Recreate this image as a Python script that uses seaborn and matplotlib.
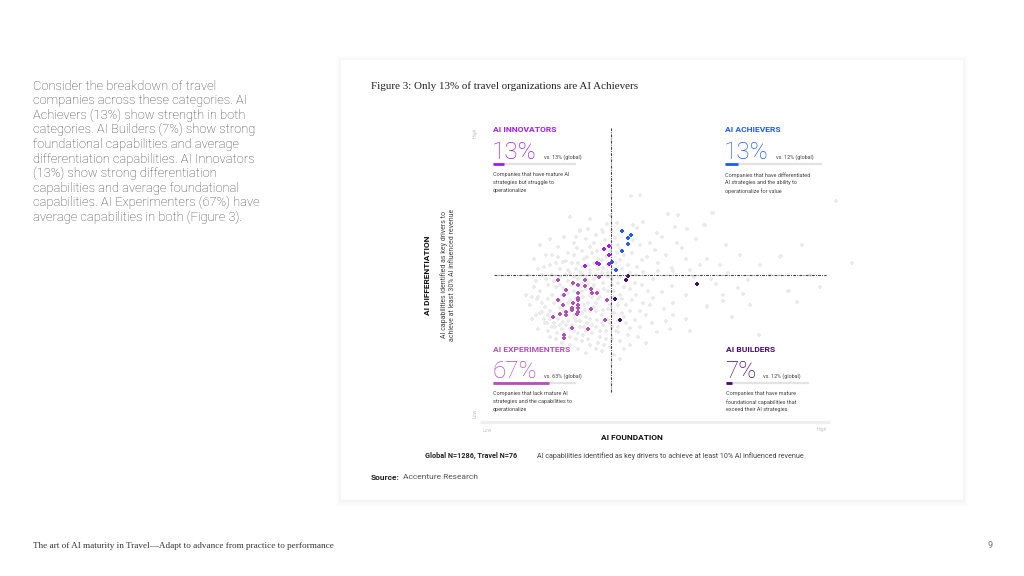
import matplotlib
matplotlib.use("Agg")
import matplotlib.pyplot as plt
from matplotlib.patches import Rectangle
import pandas as pd
import seaborn as sns

# ========== data ==========
quadrants = ["AI INNOVATORS", "AI ACHIEVERS", "AI EXPERIMENTERS", "AI BUILDERS"]
travel_share = [13, 13, 67, 7]
global_share = [13, 12, 63, 12]
quad_colors = ["#a11df2", "#1f5bff", "#b34fb8", "#460a70"]
descriptions = [
    ["Companies that have mature AI", "strategies but struggle to", "operationalize"],
    ["Companies that have differentiated", "AI strategies and the ability to", "operationalize for value"],
    ["Companies that lack mature AI", "strategies and the capabilities to", "operationalize"],
    ["Companies that have mature", "foundational capabilities that", "exceed their AI strategies"],
]

# travel companies (foundation index, differentiation index)
innovators_x = [119, 114, 119, 95, 107, 109, 119]
innovators_y = [169, 166, 160, 149, 152, 151, 151]
achievers_x = [132, 141, 138, 138, 132, 122, 126]
achievers_y = [184, 180, 177, 171, 164, 153, 145]
builders_x = [138, 136, 207, 125, 130]
builders_y = [139, 135, 131, 116, 95]
experimenters_x = [68, 83, 88, 95, 109, 95, 101, 102, 107, 76, 74, 88, 88, 88, 68, 83, 73,
                   88, 88, 82, 82, 101, 117, 76, 70, 88, 87, 76, 63, 115, 82, 98, 74, 74]
experimenters_y = [135, 132, 130, 135, 138, 129, 126, 122, 122, 125, 120, 122, 117, 115, 115, 112, 110,
                   110, 107, 107, 105, 106, 115, 103, 101, 103, 101, 100, 98, 95, 87, 86, 80, 77]

# global sample (background cloud)
global_pts = [
    (223, 202), (214, 190), (217, 156), (230, 150), (238, 142), (291, 159), (362, 152), (221, 136),
    (226, 131), (248, 127), (258, 135), (253, 121), (233, 120), (233, 114), (299, 124), (307, 113),
    (217, 108), (269, 80), (346, 214), (185, 188), (197, 186), (167, 182), (172, 178), (143, 190),
    (147, 187), (153, 193), (187, 172), (192, 167), (165, 165), (157, 158), (152, 155), (168, 152),
    (182, 147), (200, 145), (147, 148), (142, 162), (130, 155), (115, 175), (112, 185), (127, 192),
    (143, 175), (153, 143), (168, 144), (183, 144), (145, 132), (152, 130), (163, 136), (172, 123),
    (182, 129), (142, 115), (153, 112), (163, 117), (183, 112), (145, 95), (162, 92), (183, 100),
    (140, 87), (167, 83), (128, 83), (113, 90), (90, 184), (78, 162), (73, 153), (87, 167),
    (102, 162), (107, 164), (113, 183), (117, 191), (97, 158), (88, 152), (70, 146), (78, 145),
    (93, 148), (100, 145), (113, 147), (112, 155), (125, 177), (127, 162), (50, 124), (47, 116),
    (55, 108), (50, 102), (58, 130), (62, 120), (57, 92), (65, 88), (67, 82), (60, 78),
    (80, 78), (93, 80), (102, 82), (110, 78), (97, 92), (107, 95), (113, 105), (110, 118),
    (103, 128), (113, 132), (80, 142), (90, 143), (100, 142), (73, 127), (80, 115), (93, 118),
    (95, 105), (73, 93), (85, 97), (90, 88), (70, 107), (141, 219), (150, 220), (178, 201),
    (188, 200), (222, 202), (215, 190), (290, 158), (298, 124), (217, 109), (48, 118), (52, 103),
    (55, 92), (90, 185), (84, 138), (96, 137), (104, 136), (118, 138), (122, 130), (118, 124),
    (124, 118), (120, 110), (124, 102), (118, 96), (122, 88), (116, 84), (106, 88), (100, 96),
    (92, 102), (86, 108), (78, 112), (72, 120), (66, 128), (64, 112), (60, 104), (68, 96),
    (76, 90), (84, 84), (92, 74), (100, 70), (108, 72), (116, 76), (120, 68), (96, 62),
    (88, 66), (80, 70), (72, 72), (112, 64), (82, 152), (94, 156), (104, 152), (108, 146),
    (118, 150), (92, 132), (84, 124), (100, 120), (106, 112), (112, 100), (98, 112), (90, 128),
    (78, 134), (70, 138), (62, 140), (56, 136), (44, 128), (40, 110), (42, 96), (48, 86),
    (58, 84), (76, 100), (96, 84), (106, 104), (116, 114), (124, 146), (130, 138), (134, 128),
    (130, 120), (136, 110), (132, 102), (128, 94), (136, 92), (130, 74), (140, 70), (124, 60),
    (134, 66), (148, 78), (150, 104), (158, 124), (138, 150), (134, 160), (128, 170), (120, 164),
    (104, 172), (96, 176), (84, 172), (74, 178), (62, 160), (66, 152), (54, 148), (60, 96),
    (86, 94), (94, 110), (102, 118), (108, 124), (96, 126), (88, 136), (74, 104), (80, 104),
    (58, 116), (100, 104), (120, 92), (110, 84), (86, 76), (126, 84), (138, 80), (150, 88),
    (156, 100), (160, 110), (174, 106), (176, 94), (196, 120), (204, 138), (210, 150), (196, 156),
    (176, 160), (160, 172), (150, 170), (206, 176), (236, 170), (250, 160), (270, 150), (260, 110),
    (242, 98), (196, 96), (180, 86), (156, 72), (200, 84), (320, 140), (330, 128), (280, 140),
    (312, 170), (60, 176), (50, 170), (44, 156), (38, 140), (36, 120), (80, 198), (100, 196),
    (120, 200), (130, 56), (64, 134), (70, 130), (76, 140), (82, 130), (86, 146), (92, 140),
    (98, 150), (104, 130), (110, 138), (114, 126), (108, 116), (104, 108), (96, 98), (90, 94),
    (84, 100), (78, 94), (72, 86), (66, 76), (74, 82), (82, 90), (94, 88), (102, 90),
    (112, 92), (118, 106), (124, 124), (128, 132), (132, 146), (126, 152), (116, 158), (108, 156),
    (100, 168), (92, 164), (84, 160), (76, 154), (68, 158), (60, 150), (52, 140), (46, 134),
    (52, 112), (58, 100), (64, 92), (70, 90), (80, 86), (88, 82), (98, 76), (106, 66),
    (114, 70), (122, 76), (128, 88), (134, 98), (140, 104), (146, 120), (140, 126), (136, 136),
    (146, 140), (140, 142), (130, 166), (122, 184), (106, 180), (98, 186), (86, 178), (68, 168),
    (56, 160), (48, 146), (42, 118), (46, 100), (54, 96), (62, 88), (70, 114), (78, 122),
    (86, 116), (92, 124), (98, 132), (106, 140), (112, 142), (118, 142), (122, 136), (128, 110),
    (132, 116),
]
FOUND_CUT = 121
DIFF_CUT = 140

intro_lines = [
    "Consider the breakdown of travel",
    "companies across these categories. AI",
    "Achievers (13%) show strength in both",
    "categories. AI Builders (7%) show strong",
    "foundational capabilities and average",
    "differentiation capabilities. AI Innovators",
    "(13%) show strong differentiation",
    "capabilities and average foundational",
    "capabilities. AI Experimenters (67%) have",
    "average capabilities in both (Figure 3).",
]

# ========== figure ==========
sns.set_theme(style="white")
plt.rcParams['font.family'] = ['Roboto', 'DejaVu Sans']
W, H = 1024, 576
fig = plt.figure(figsize=(W / 100, H / 100), dpi=100, facecolor="white")


def fx(px):
    return px / W


def fy(py):
    return 1 - py / H


# card with soft shadow
for d in range(1, 6):
    fig.patches.append(Rectangle((fx(341 - d), fy(500 + d + 1)), (622 + 2 * d) / W, (440 + 2 * d) / H,
                                 transform=fig.transFigure, facecolor="black", alpha=0.006,
                                 edgecolor="none", zorder=0))
fig.patches.append(Rectangle((fx(341), fy(500)), 622 / W, 440 / H, transform=fig.transFigure,
                             facecolor="white", edgecolor="none", zorder=1))

# left paragraph
for i, line in enumerate(intro_lines):
    fig.text(fx(33), fy(86 + i * 14.6), line, fontsize=9.3, fontweight="light",
             color="#444444", va="center", ha="left")

# footer
fig.text(fx(33), fy(546), "The art of AI maturity in Travel\u2014Adapt to advance from practice to performance",
         family=["Liberation Serif"], fontsize=6.6, color="#333333", va="center")
fig.text(fx(990), fy(546), "9", fontsize=6.5, color="#777777", va="center", ha="center")

# figure title and notes
fig.text(fx(371), fy(86), "Figure 3: Only 13% of travel organizations are AI Achievers",
         family=["Liberation Serif"], fontsize=7.9, color="#222222", va="center")
fig.text(fx(425), fy(456), "Global N=1286, Travel N=76", fontsize=5.2, fontweight="bold",
         color="#222222", va="center")
fig.text(fx(537), fy(456), "AI capabilities identified as key drivers to achieve at least 10% AI influenced revenue",
         fontsize=5.1, color="#444444", va="center")
fig.text(fx(371), fy(477), "Source:", fontsize=6.0, fontweight="bold", color="#222222", va="center")
fig.text(fx(403), fy(477), "Accenture Research", fontsize=6.0, color="#555555", va="center")

# ========== scatter ==========
ax = fig.add_axes([fx(465), fy(445), 410 / W, 327 / H], zorder=2)
ax.set_xlim(-25, 385)
ax.set_ylim(-30, 297)
ax.axis("off")
ax.patch.set_alpha(0)

gdf = pd.DataFrame(global_pts, columns=["foundation", "differentiation"])
sns.scatterplot(data=gdf, x="foundation", y="differentiation", ax=ax, color="#ebebeb",
                marker="P", s=8, linewidth=0, legend=False, zorder=2)

tdf = pd.concat([
    pd.DataFrame({"foundation": innovators_x, "differentiation": innovators_y, "group": quadrants[0]}),
    pd.DataFrame({"foundation": achievers_x, "differentiation": achievers_y, "group": quadrants[1]}),
    pd.DataFrame({"foundation": experimenters_x, "differentiation": experimenters_y, "group": quadrants[2]}),
    pd.DataFrame({"foundation": builders_x, "differentiation": builders_y, "group": quadrants[3]}),
])
sns.scatterplot(data=tdf, x="foundation", y="differentiation", hue="group",
                palette=dict(zip(quadrants, quad_colors)), marker="P", s=8, linewidth=0,
                legend=False, ax=ax, zorder=3)

dash = (0, (2.6, 1.1, 0.8, 1.1))
ax.plot([FOUND_CUT, FOUND_CUT], [23, 287], color="#444444", lw=0.8, ls=dash, zorder=4)
ax.plot([4, 336], [DIFF_CUT, DIFF_CUT], color="#444444", lw=0.8, ls=dash, zorder=4)
ax.plot([-10, 340], [-7, -7], color="#efefef", lw=2.2, solid_capstyle="butt", zorder=1)

# axis labels
ax.text(-3, -15, "Low", fontsize=3.6, color="#c4c4c4", ha="center", va="center")
ax.text(332, -15, "High", fontsize=3.6, color="#c4c4c4", ha="center", va="center")
ax.text(142, -23, "AI FOUNDATION", fontsize=6.0, fontweight="bold", color="#111111",
        ha="center", va="center")
ax.text(-15, 2, "Low", fontsize=3.6, color="#c4c4c4", ha="center", va="center", rotation=90)
ax.text(-15, 282, "High", fontsize=3.6, color="#c4c4c4", ha="center", va="center", rotation=90)
ax.text(-62, 140, "AI DIFFERENTIATION", fontsize=6.0, fontweight="bold", color="#111111",
        ha="center", va="center", rotation=90)
ax.text(-42, 140, "AI capabilities identified as key drivers to\nachieve at least 30% AI influenced revenue",
        fontsize=5.0, color="#444444", ha="center", va="center", rotation=90, linespacing=1.35,
        multialignment="center")

# quadrant annotations
anchors = [(3, 285), (235, 285), (3, 66), (236, 66)]
track_len = [83, 97, 83, 83]
fig.canvas.draw()
renderer = fig.canvas.get_renderer()
inv = ax.transData.inverted()
for name, share, glob, col, desc, (x0, y0), tl in zip(quadrants, travel_share, global_share,
                                                     quad_colors, descriptions, anchors, track_len):
    ax.text(x0, y0, name, fontsize=6.1, fontweight="bold", color=col, ha="left", va="center")
    num = ax.text(x0 - 1, y0 - 23, f"{share}%", fontsize=17.5, fontweight="light", color=col,
                  ha="left", va="center")
    bb = num.get_window_extent(renderer)
    right = inv.transform((bb.x1, bb.y0))[0]
    ax.text(right + 7, y0 - 27, f"vs. {glob}% (global)", fontsize=3.9, color="#444444",
            ha="left", va="center")
    ax.plot([x0, x0 + tl], [y0 - 34, y0 - 34], color="#e3e3e3", lw=1.6, solid_capstyle="butt")
    ax.plot([x0, x0 + tl * share / 100], [y0 - 34, y0 - 34], color=col, lw=2.0, solid_capstyle="butt")
    for j, line in enumerate(desc):
        ax.text(x0, y0 - 45 - 8 * j, line, fontsize=4.0, color="#444444", ha="left", va="center")

fig.savefig("out.png", dpi=100, facecolor="white")
